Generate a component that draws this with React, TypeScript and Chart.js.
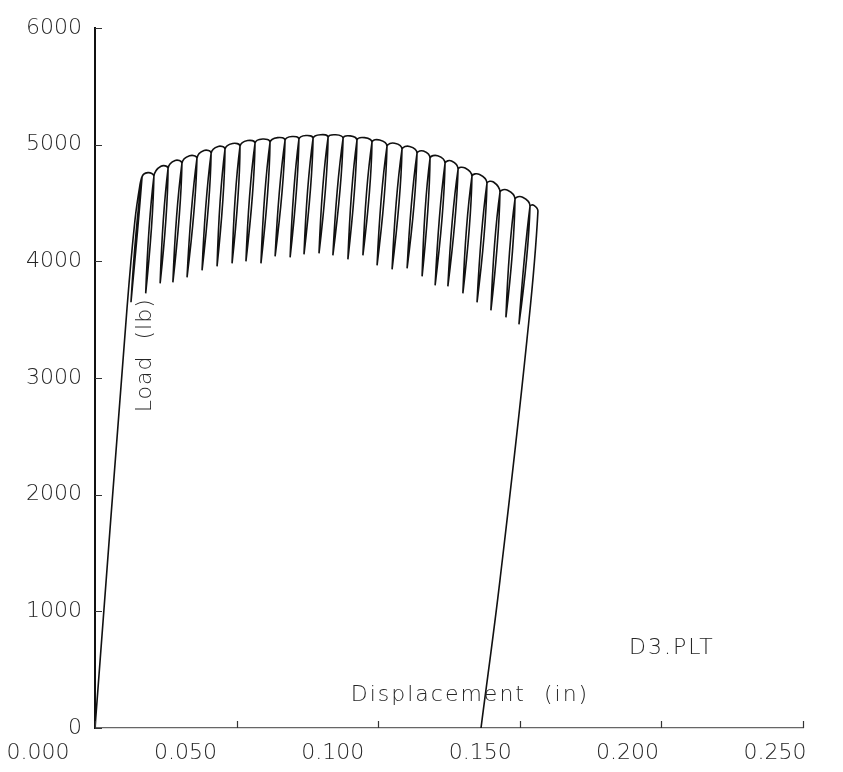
import React, { useEffect, useRef } from 'react';
import { Chart, registerables } from 'chart.js';

Chart.register(...registerables);

// Initial elastic loading branch (displacement in, load lb)
const loadingDisp = [0, 0.0113, 0.0141, 0.0159];
const loadingLoad = [0, 3597, 4351, 4660];

// Point where each unloading starts (top of each tooth)
const topDisp = [0.0166, 0.0208, 0.0258, 0.0307, 0.036, 0.041, 0.0459, 0.0512, 0.0565, 0.0618, 0.0671, 0.072, 0.077, 0.0823, 0.0876, 0.0925, 0.0978, 0.1031, 0.1084, 0.1137, 0.1183, 0.1236, 0.1282, 0.1331, 0.1384, 0.143, 0.1483, 0.1536];
const topLoad = [4719, 4728, 4796, 4839, 4882, 4925, 4959, 4985, 5011, 5019, 5036, 5045, 5053, 5062, 5053, 5036, 5019, 4985, 4959, 4925, 4882, 4839, 4788, 4728, 4668, 4591, 4531, 4471];

// Bottom of each unload / reload cycle
const valleyDisp = [0.0127, 0.0179, 0.023, 0.0275, 0.0325, 0.0378, 0.0431, 0.0484, 0.0533, 0.0586, 0.0636, 0.0689, 0.0738, 0.0791, 0.084, 0.0893, 0.0946, 0.0996, 0.1049, 0.1102, 0.1155, 0.1201, 0.1246, 0.1299, 0.1349, 0.1398, 0.1451, 0.1497];
const valleyLoad = [3649, 3726, 3811, 3820, 3863, 3923, 3957, 3983, 4000, 3983, 4043, 4034, 4060, 4068, 4051, 4017, 4051, 3966, 3931, 3940, 3871, 3794, 3786, 3726, 3649, 3580, 3520, 3460];

// Crest of the plastic hump after each reload
const crestDisp = [0.0187, 0.0233, 0.0283, 0.0334, 0.0385, 0.0435, 0.0486, 0.0539, 0.0592, 0.0645, 0.0696, 0.0745, 0.0797, 0.085, 0.0901, 0.0952, 0.1005, 0.1058, 0.1111, 0.116, 0.121, 0.1259, 0.1307, 0.1358, 0.1407, 0.1457, 0.151, 0.155];
const crestLoad = [4760, 4815, 4865, 4905, 4950, 4985, 5010, 5035, 5048, 5060, 5070, 5078, 5085, 5085, 5075, 5060, 5040, 5012, 4985, 4945, 4905, 4860, 4800, 4745, 4680, 4610, 4550, 4480];

// Final unloading to zero
const finalDisp = [0.1564, 0.1525, 0.143, 0.1363];
const finalLoad = [4428, 3323, 1268, 0];

const xTicks = [0, 0.05, 0.1, 0.15, 0.2, 0.25];
const yTicks = [0, 1000, 2000, 3000, 4000, 5000, 6000];

const noteTexts = ['Load  (lb)', 'Displacement  (in)', 'D3.PLT'];
const noteDisp = [0.0176, 0.1324, 0.2037];
const noteLoad = [3195, 283, 685];
const noteRotated = [true, false, false];
const noteSpacing = ['1px', '2px', '2px'];

const FONT = 'DejaVu Sans';
const TEXT_COLOR = '#262626';

function buildPath() {
  const pts: { x: number; y: number }[] = [];
  loadingDisp.forEach((d, i) => pts.push({ x: d, y: loadingLoad[i] }));
  topDisp.forEach((d, i) => {
    pts.push({ x: d, y: topLoad[i] });
    pts.push({ x: valleyDisp[i], y: valleyLoad[i] });
    pts.push({ x: d, y: topLoad[i] });
    pts.push({ x: crestDisp[i], y: crestLoad[i] });
  });
  finalDisp.forEach((d, i) => pts.push({ x: d, y: finalLoad[i] }));
  return pts;
}

const notesPlugin = {
  id: 'notes',
  afterDatasetsDraw(chart: any) {
    const { ctx, scales } = chart;
    const xs = scales.x;
    const ys = scales.y;
    ctx.save();
    // inward tick marks
    ctx.strokeStyle = '#333';
    ctx.lineWidth = 1.2;
    ctx.beginPath();
    xTicks.forEach((v) => {
      const px = Math.round(xs.getPixelForValue(v)) + 0.5;
      const py = ys.getPixelForValue(0);
      ctx.moveTo(px, py);
      ctx.lineTo(px, py - 7);
    });
    yTicks.forEach((v) => {
      const py = Math.round(ys.getPixelForValue(v)) + 0.5;
      const px = xs.getPixelForValue(0);
      ctx.moveTo(px, py);
      ctx.lineTo(px + 7, py);
    });
    ctx.stroke();

    ctx.fillStyle = TEXT_COLOR;
    ctx.font = `300 22px "${FONT}"`;
    ctx.textAlign = 'center';
    ctx.textBaseline = 'middle';
    noteTexts.forEach((t, i) => {
      const px = xs.getPixelForValue(noteDisp[i]);
      const py = ys.getPixelForValue(noteLoad[i]);
      ctx.save();
      (ctx as any).letterSpacing = noteSpacing[i];
      ctx.translate(px, py);
      if (noteRotated[i]) ctx.rotate(-Math.PI / 2);
      ctx.fillText(t, 0, 0);
      ctx.restore();
    });
    ctx.restore();
  },
};

export default function App() {
  const ref = useRef<HTMLCanvasElement | null>(null);

  useEffect(() => {
    if (!ref.current) return;
    const chart = new Chart(ref.current, {
      type: 'scatter',
      data: {
        datasets: [
          {
            data: buildPath(),
            showLine: true,
            pointRadius: 0,
            borderColor: '#111111',
            borderWidth: 1.6,
            tension: 0.4,
          },
        ],
      },
      options: {
        responsive: false,
        animation: false,
        layout: { padding: { top: 28, right: 40, left: 0, bottom: 0 } },
        plugins: { legend: { display: false }, tooltip: { enabled: false } },
        scales: {
          x: {
            type: 'linear',
            position: 'bottom',
            min: 0,
            max: 0.25,
            afterBuildTicks: (axis: any) => {
              axis.ticks = xTicks.map((v) => ({ value: v }));
            },
            afterFit: (axis: any) => {
              axis.height = 0;
            },
            ticks: { display: false },
            grid: { drawOnChartArea: false, drawTicks: false },
            border: { display: true, color: '#666', width: 1.2, dash: [5, 4] },
          },
          xl: {
            type: 'linear',
            position: 'bottom',
            min: 0.019335,
            max: 0.2595,
            afterBuildTicks: (axis: any) => {
              axis.ticks = xTicks.map((v) => ({ value: v }));
            },
            afterFit: (axis: any) => {
              axis.height = 44;
            },
            ticks: {
              autoSkip: false,
              maxRotation: 0,
              padding: 12,
              color: TEXT_COLOR,
              font: { family: FONT, size: 22, weight: '300' },
              callback: (v: any) => Number(v).toFixed(3),
            },
            grid: { display: false, drawTicks: false },
            border: { display: false },
          },
          y: {
            type: 'linear',
            min: 0,
            max: 6000,
            afterBuildTicks: (axis: any) => {
              axis.ticks = yTicks.map((v) => ({ value: v }));
            },
            afterFit: (axis: any) => {
              axis.width = 95;
            },
            ticks: {
              padding: 13,
              color: TEXT_COLOR,
              font: { family: FONT, size: 22, weight: '300' },
              callback: (v: any) => String(v),
            },
            grid: { drawOnChartArea: false, drawTicks: false },
            border: { display: true, color: '#111', width: 2 },
          },
        },
      },
      plugins: [notesPlugin],
    });
    return () => chart.destroy();
  }, []);

  return (
    <div style={{ position: 'fixed', left: 0, top: 0, width: 843, height: 772, background: '#fff' }}>
      <canvas ref={ref} width={843} height={772} />
    </div>
  );
}
